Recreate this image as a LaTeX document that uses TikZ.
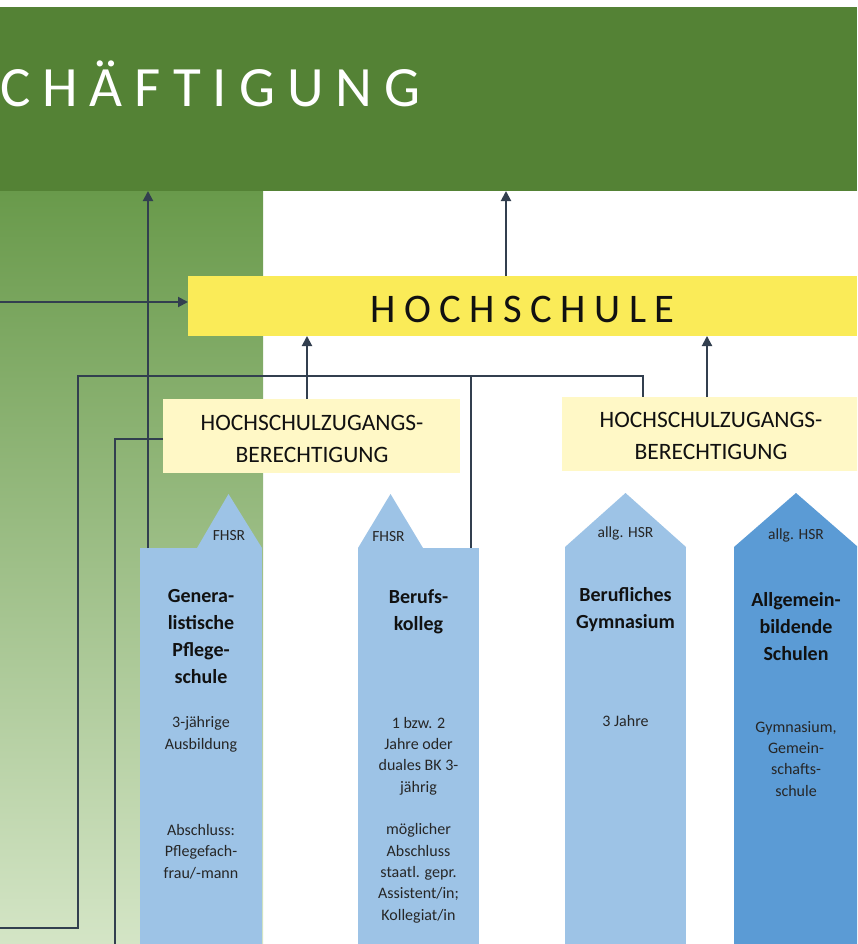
\documentclass[tikz,border=0pt]{standalone}
\usepackage{fontspec}
\setmainfont{Carlito}
\newfontfamily\spaced[LetterSpace=21]{Carlito}
\usetikzlibrary{arrows.meta}
\definecolor{hdr}{HTML}{548235}
\definecolor{gtop}{HTML}{699A4B}
\definecolor{gbot}{HTML}{D4E5C6}
\definecolor{hsyellow}{HTML}{FAEB58}
\definecolor{lyellow}{HTML}{FFF8C6}
\definecolor{lblue}{HTML}{9DC3E6}
\definecolor{dblue}{HTML}{5B9BD5}
\definecolor{linec}{HTML}{323F4F}
\definecolor{txt}{HTML}{111111}
\definecolor{stxt}{HTML}{262626}
\begin{document}
\begin{tikzpicture}[x=1pt,y=-1pt,
  conn/.style={draw=linec, line width=2pt},
  arr/.style={conn, -{Triangle[length=10pt,width=10pt]}},
  body/.style={inner sep=0pt, outer sep=0pt, draw=none},
  boldtxt/.style={align=center, anchor=base, inner sep=0pt, text=txt, font=\bfseries\fontsize{20}{26.7}\selectfont},
  smalltxt/.style={align=center, anchor=base, inner sep=0pt, text=stxt, font=\fontsize{16}{21.3}\selectfont},
  labeltxt/.style={anchor=base, inner sep=0pt, text=stxt, font=\fontsize{15.5}{18}\selectfont},
  hzbtxt/.style={align=center, anchor=base, inner sep=0pt, text=txt, font=\fontsize{23.5}{32}\selectfont}]
\clip (0,0) rectangle (857,944);
\fill[white] (0,0) rectangle (857,944);
% left green panel
\shade[top color=gtop, bottom color=gbot] (0,191) rectangle (263,944);
% header
\node[body, fill=hdr, minimum width=857pt, minimum height=184pt, anchor=north west] (top) at (0,7) {};
\node[anchor=base west, inner sep=0pt, text=white, font=\spaced\fontsize{57}{60}\selectfont] (toptext) at (0,107) {CHÄFTIGUNG};
% Hochschule
\node[body, fill=hsyellow, minimum width=669pt, minimum height=60pt] (hs) at (522.5,306) {};
\node[anchor=base west, inner sep=0pt, text=txt, font=\spaced\fontsize{40.6}{44}\selectfont] (hstext) at (370,322) {HOCHSCHULE};
% HZB boxes
\node[body, fill=lyellow, minimum width=297pt, minimum height=74pt] (hz1) at (311.5,436) {};
\node[hzbtxt] (hz1text) at (312,462) {HOCHSCHULZUGANGS-\\BERECHTIGUNG};
\node[body, fill=lyellow, minimum width=298pt, minimum height=74pt] (hz2) at (711,434) {};
\node[hzbtxt] (hz2text) at (711,459) {HOCHSCHULZUGANGS-\\BERECHTIGUNG};
% blue arrow bodies
\node[body, fill=lblue, minimum width=122pt, minimum height=402pt] (gen) at (201,749) {};
\fill[lblue] (gen.north east) -- ++(-33.5,-54) -- ++(-31.5,54) -- cycle;
\node[body, fill=lblue, minimum width=121pt, minimum height=402pt] (bk) at (418.5,749) {};
\fill[lblue] (bk.north west) -- ++(32.5,-54) -- ++(32.5,54) -- cycle;
\node[body, fill=lblue, minimum width=121pt, minimum height=403pt] (bg) at (625.5,748.5) {};
\fill[lblue] (bg.north west) -- ++(60.5,-54) -- (bg.north east) -- cycle;
\node[body, fill=dblue, minimum width=124pt, minimum height=403pt] (ab) at (796,748.5) {};
\fill[dblue] (ab.north west) -- ++(62,-54) -- (ab.north east) -- cycle;
% texts in arrows (base = last line)
\node[labeltxt] (genlab) at (229,540) {FHSR};
\node[boldtxt] (genname) at (201,683) {Genera-\\listische\\Pflege-\\schule};
\node[smalltxt] (gens1) at (201,749) {3-jährige\\Ausbildung};
\node[smalltxt] (gens2) at (201,878) {Abschluss:\\Pflegefach-\\frau/-mann};
\node[labeltxt] (bklab) at (388.5,541) {FHSR};
\node[boldtxt] (bkname) at (418.5,630) {Berufs-\\kolleg};
\node[smalltxt] (bks1) at (418.5,792) {1 bzw. 2\\Jahre oder\\duales BK 3-\\jährig};
\node[smalltxt] (bks2) at (418.5,920) {möglicher\\Abschluss\\staatl. gepr.\\Assistent/in;\\Kollegiat/in};
\node[labeltxt] (bglab) at (625.5,537) {allg. HSR};
\node[boldtxt] (bgname) at (625.5,628) {Berufliches\\Gymnasium};
\node[smalltxt] (bgs1) at (625.5,726) {3 Jahre};
\node[labeltxt] (ablab) at (796,539) {allg. HSR};
\node[boldtxt] (abname) at (796,660) {Allgemein-\\bildende\\Schulen};
\node[smalltxt] (abs1) at (796,796) {Gymnasium,\\Gemein-\\schafts-\\schule};
% helper coordinates
\coordinate (lin) at (0,302);
\coordinate (lbot) at (0,928);
\coordinate (j1) at (78,376);
\coordinate (j2) at (643,376);
\coordinate (j3) at (471,376);
\coordinate (lbot2) at (115,944);
\coordinate (a7) at (707,0);
% connectors
\draw[arr] ([xshift=8pt]gen.north west) -- ([xshift=8pt]gen.north west |- top.south);
\draw[arr] (lin) -- (lin -| hs.west);
\draw[conn] (lbot) -| (j1) -- (j2) -- (j2 |- hz2.north);
\draw[conn] (j3) -- (j3 |- bk.north);
\draw[conn] ([yshift=-3pt]hz1.west) -| (lbot2);
\draw[arr] ([xshift=-4.5pt]hz1.north) -- ([xshift=-4.5pt]hz1.north |- hs.south);
\draw[arr] (a7 |- hz2.north) -- (a7 |- hs.south);
\draw[arr] ([xshift=-16.5pt]hs.north) -- ([xshift=-16.5pt]hs.north |- top.south);
\end{tikzpicture}
\end{document}
